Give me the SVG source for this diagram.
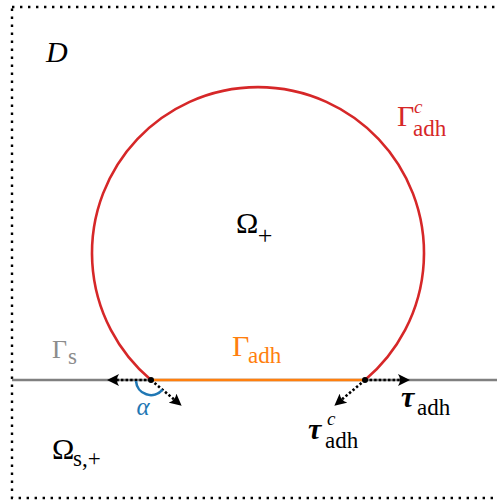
<svg xmlns="http://www.w3.org/2000/svg" width="497" height="502" viewBox="0 0 497 502">
<defs>
<style>
text{font-family:"Liberation Serif","Times New Roman",serif;}
.big{font-size:30px;}
.sub{font-size:23px;}
.sup{font-size:19px;font-style:italic;}
.it{font-style:italic;}
.dots{fill:none;stroke:#000;stroke-width:2.4;stroke-dasharray:2.4 5.6;}
.arr{fill:none;stroke:#000;stroke-width:2.6;stroke-dasharray:2.4 2.2;}
.red{fill:#d62728;}
.orange{fill:#ff7f0e;}
.gray{fill:#8c8c8c;}
.blue{fill:#1f77b4;}
</style>
<marker id="stealth" viewBox="0 0 12 12" refX="2" refY="6" markerWidth="12" markerHeight="12" markerUnits="userSpaceOnUse" orient="auto">
<path d="M12,6 L0,0 Q4,6 0,12 Z" fill="#000"/>
</marker>
</defs>
<rect width="497" height="502" fill="#fff"/>
<g id="domain">
<rect class="dots" x="12" y="7" width="487" height="491"/>
<text class="big it" x="46" y="62">D</text>
</g>
<g id="substrate">
<line x1="12" y1="380" x2="497" y2="380" stroke="#808080" stroke-width="2.6"/>
<line x1="151" y1="380" x2="365" y2="380" stroke="#ff7f0e" stroke-width="2.6"/>
</g>
<g id="drop">
<path d="M151,380 A166,166 0 1 1 365,380" fill="none" stroke="#d62728" stroke-width="2.6"/>
</g>
<g id="connectors">
<line class="arr" x1="151" y1="380" x2="117" y2="380" marker-end="url(#stealth)"/>
<line class="arr" x1="151" y1="380" x2="174" y2="399.4" marker-end="url(#stealth)"/>
<line class="arr" x1="365" y1="380" x2="400" y2="380" marker-end="url(#stealth)"/>
<line class="arr" x1="365" y1="380" x2="342" y2="399.4" marker-end="url(#stealth)"/>
<path d="M136,381 A15,15 0 0 0 162.5,389.7" fill="none" stroke="#1f77b4" stroke-width="2.6"/>
<circle cx="151" cy="380" r="3" fill="#000"/>
<circle cx="365" cy="380" r="3" fill="#000"/>
</g>
<g id="labels">
<g id="gamma-c-adh" class="red">
<text class="big" x="397" y="126">Γ</text>
<text class="sup" x="414" y="113">c</text>
<text class="sub" x="413" y="136">adh</text>
</g>
<g id="omega-plus">
<text class="big" x="236" y="233">Ω</text>
<text style="font-size:26px" x="265" y="244" text-anchor="middle">+</text>
</g>
<g id="gamma-s" class="gray">
<text style="font-size:26px" x="52" y="358">Γ</text>
<text class="sub" x="68" y="364">s</text>
</g>
<g id="gamma-adh" class="orange">
<text class="big" x="232" y="356">Γ</text>
<text class="sub" x="248" y="363">adh</text>
</g>
<g id="alpha" class="blue">
<text class="it" style="font-size:25px" x="143" y="415" text-anchor="middle">α</text>
</g>
<g id="tau-adh">
<text class="big it" style="font-weight:bold" x="401" y="407">τ</text>
<text class="sub" x="417" y="415">adh</text>
</g>
<g id="tau-c-adh">
<text class="big it" style="font-weight:bold" x="308" y="439">τ</text>
<text class="sup" x="327" y="425">c</text>
<text class="sub" x="325" y="448">adh</text>
</g>
<g id="omega-s-plus">
<text class="big" x="52" y="459">Ω</text>
<text class="sub" x="73" y="466">s,+</text>
</g>
</g>
</svg>
